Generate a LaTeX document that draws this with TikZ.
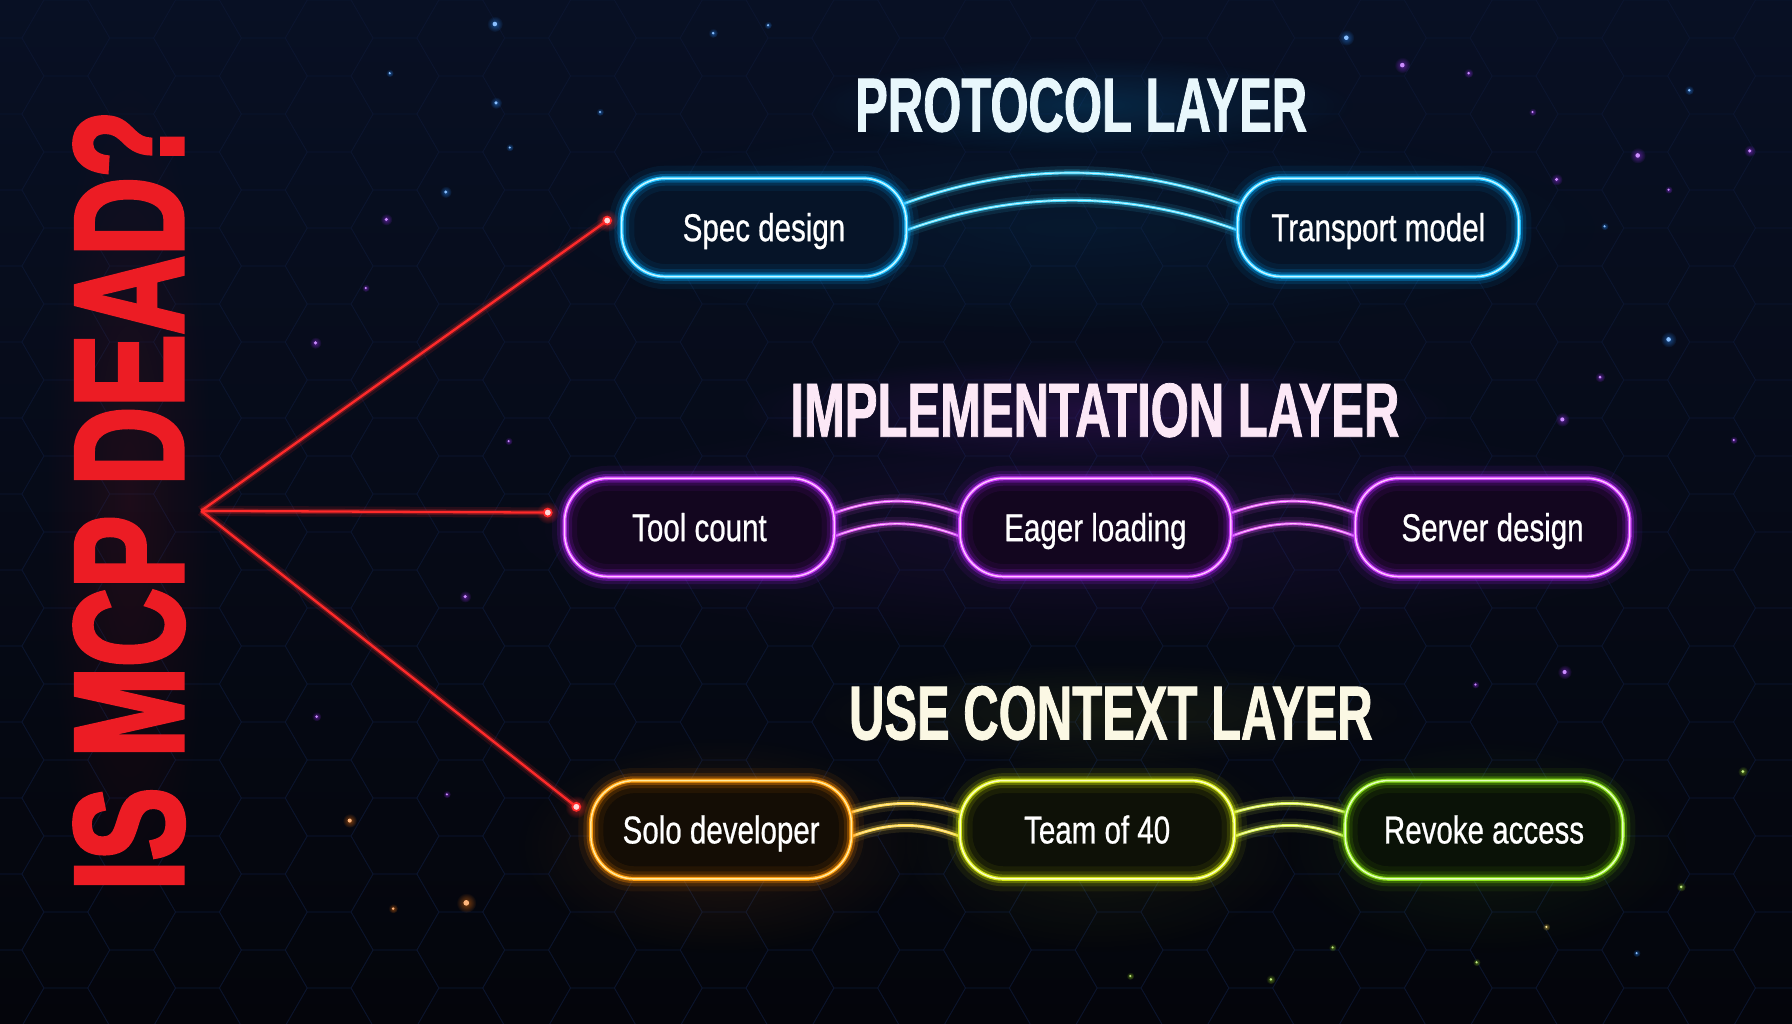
\documentclass[tikz,border=0pt]{standalone}
\usepackage{fontspec}
\usetikzlibrary{calc,fadings}
\newfontfamily\titlefont{Liberation Sans}[FakeStretch=0.70,FakeBold=2.5]
\newfontfamily\headfont{Liberation Sans}[FakeStretch=0.64,FakeBold=1]
\newfontfamily\boxfont{Liberation Sans}[FakeStretch=0.76,FakeBold=0.6]
\definecolor{bgtop}{HTML}{081024}
\definecolor{bgbot}{HTML}{04050B}
\definecolor{hexcol}{HTML}{0C1630}
\definecolor{titlered}{HTML}{EC1C24}
\definecolor{redc}{HTML}{FF2A2A}
\definecolor{protxt}{HTML}{E8F7FC}
\definecolor{imptxt}{HTML}{FCE8F6}
\definecolor{usetxt}{HTML}{FBF8E4}
\definecolor{cyanc}{HTML}{3FD8FF}
\definecolor{cyanhot}{HTML}{C8F6FF}
\definecolor{cyanfill}{HTML}{061428}
\definecolor{cyanglow}{HTML}{00A8FF}
\definecolor{magc}{HTML}{E050F4}
\definecolor{maghot}{HTML}{FFC4FF}
\definecolor{magfill}{HTML}{13061F}
\definecolor{magglow}{HTML}{B020FF}
\definecolor{soloc}{HTML}{FFB21A}
\definecolor{solohot}{HTML}{FFE9A0}
\definecolor{solofill}{HTML}{140D05}
\definecolor{sologlow}{HTML}{FF8A00}
\definecolor{teamc}{HTML}{E2EE2C}
\definecolor{teamhot}{HTML}{FBFFC4}
\definecolor{teamfill}{HTML}{0E1107}
\definecolor{teamglow}{HTML}{C8E000}
\definecolor{revc}{HTML}{A3EE34}
\definecolor{revhot}{HTML}{E4FFC0}
\definecolor{revfill}{HTML}{0A1207}
\definecolor{revglow}{HTML}{70D000}
\definecolor{arcy}{HTML}{FFD84A}
\definecolor{arcg}{HTML}{D4F04A}
\definecolor{sblue}{HTML}{2A8CFF}
\definecolor{spurple}{HTML}{A030FF}
\definecolor{sorange}{HTML}{FF7A10}
\definecolor{sgreen}{HTML}{9AE020}
\tikzfading[name=glowfade, inner color=transparent!0, outer color=transparent!100]
\pgfdeclarelayer{bglayer}
\pgfdeclarelayer{back}
\pgfsetlayers{bglayer,back,main}
\tikzset{
  pill/.style={rounded corners=38pt, minimum height=86pt, inner sep=0pt,
    text=white, line width=3.4pt, text height=24pt, text depth=0pt,
    font=\boxfont\fontsize{34}{36}\selectfont},
  neon/.style n args={4}{draw=#1, fill=#2,
    postaction={draw=#4, line width=22pt, draw opacity=0.07},
    postaction={draw=#4, line width=13pt, draw opacity=0.14},
    postaction={draw=#4, line width=7.5pt, draw opacity=0.32},
    postaction={draw=#3, line width=1.3pt}},
  arcline/.style 2 args={draw=#1, line width=2.5pt,
    preaction={draw=#1, line width=12pt, draw opacity=0.10},
    preaction={draw=#1, line width=6pt, draw opacity=0.25},
    postaction={draw=#2, line width=0.9pt}},
  redline/.style={draw=redc, line width=2pt,
    preaction={draw=redc, line width=9pt, draw opacity=0.12},
    preaction={draw=redc, line width=4.5pt, draw opacity=0.3}},
  headtxt/.style={inner sep=0pt, font=\headfont\bfseries\fontsize{67}{70}\selectfont},
  glow/.style={path fading=glowfade, fill=#1}
}
\begin{document}
\begin{tikzpicture}[x=1pt,y=-1pt]
\useasboundingbox (0,0) rectangle (1568,896);
\begin{pgfonlayer}{bglayer}
\shade[top color=bgtop, bottom color=bgbot] (0,0) rectangle (1568,896);
\begin{scope}[draw=hexcol, line width=0.7pt, draw opacity=0.7]
\foreach \i in {0,...,28}{
  \foreach \j in {-1,...,14}{
    \pgfmathsetmacro\cx{\i*57.6}
    \pgfmathsetmacro\cy{\j*66.5+mod(\i,2)*33.25}
    \draw (\cx+38.4,\cy) -- (\cx+19.2,\cy+33.25) -- (\cx-19.2,\cy+33.25) -- (\cx-38.4,\cy) -- (\cx-19.2,\cy-33.25) -- (\cx+19.2,\cy-33.25) -- cycle;
  }}
\end{scope}
% ambient glows
\fill[glow=titlered, opacity=0.10] (113,438) ellipse (75 and 380);
\fill[glow=cyanglow, opacity=0.16] (946,92) ellipse (240 and 42);
\fill[glow=cyanglow, opacity=0.07] (937,199) ellipse (470 and 95);
\fill[glow=magglow, opacity=0.15] (958,359) ellipse (320 and 48);
\fill[glow=magglow, opacity=0.09] (960,462) ellipse (540 and 105);
\fill[glow=teamglow, opacity=0.08] (972,624) ellipse (270 and 45);
\fill[glow=sologlow, opacity=0.12] (631,740) ellipse (180 and 95);
\fill[glow=teamglow, opacity=0.08] (960,740) ellipse (180 and 95);
\fill[glow=revglow, opacity=0.09] (1298,740) ellipse (180 and 95);
% sparkles
\foreach \cc/\px/\py/\rr in {sblue/433/21/2, sblue/434/90/1.5, sblue/446/129/1, sblue/390/168/1.5,
  sblue/341/64/1, sblue/525/98/1, spurple/338/192/1.5, spurple/320/252/1, spurple/276/300/1.5,
  spurple/445/386/1, spurple/407/522/1.5, spurple/277/627/1.2, spurple/391/695/1,
  sorange/306/718/1.8, sorange/408/790/2.5, sorange/344/795/1.2, sblue/624/29/1.2, sblue/672/22/1,
  sblue/1178/33/2, spurple/1227/57/2, spurple/1285/64/1.2, spurple/1341/98/1, sblue/1478/79/1.2,
  spurple/1433/136/2, spurple/1531/132/1.5, spurple/1362/157/1.5, spurple/1460/166/1,
  sblue/1404/198/1, sblue/1460/297/2, spurple/1400/330/1.3, spurple/1367/367/1.8,
  spurple/1517/385/1, spurple/1369/588/1.8, spurple/1291/599/1, sgreen/1525/675/1.3,
  sgreen/1471/776/1.2, arcy/1353/811/1, sgreen/1166/829/1, sgreen/1292/842/1,
  sgreen/989/854/1, sgreen/1112/857/1.2, sblue/1432/834/1}{
  \fill[glow=\cc, opacity=0.5] (\px,\py) circle ({\rr*3.5});
  \fill[\cc!55!white] (\px,\py) circle (\rr);
}
\end{pgfonlayer}

% title
\node[rotate=90, inner sep=0pt, text=titlered,
  font=\titlefont\bfseries\fontsize{136}{140}\selectfont] (title) at (113,438) {IS MCP DEAD?};

% headings
\node[headtxt, text=protxt] (hprot) at (946,92) {PROTOCOL LAYER};
\node[headtxt, text=imptxt] (himp) at (958,359) {IMPLEMENTATION LAYER};
\node[headtxt, text=usetxt] (huse) at (972,624) {USE CONTEXT LAYER};

% row 1
\node[pill, neon={cyanc}{cyanfill}{cyanhot}{cyanglow}, minimum width=249pt] (spec) at (668.5,199) {Spec design};
\node[pill, neon={cyanc}{cyanfill}{cyanhot}{cyanglow}, minimum width=246pt] (trans) at (1206,199) {Transport model};
% row 2
\node[pill, neon={magc}{magfill}{maghot}{magglow}, minimum width=236pt] (tool) at (612,461.5) {Tool count};
\node[pill, neon={magc}{magfill}{maghot}{magglow}, minimum width=237pt] (eager) at (958.5,461.5) {Eager loading};
\node[pill, neon={magc}{magfill}{maghot}{magglow}, minimum width=240pt] (server) at (1306,461.5) {Server design};
% row 3
\node[pill, neon={soloc}{solofill}{solohot}{sologlow}, minimum width=228pt] (solo) at (631,726) {Solo developer};
\node[pill, neon={teamc}{teamfill}{teamhot}{teamglow}, minimum width=240pt] (team) at (960,726) {Team of 40};
\node[pill, neon={revc}{revfill}{revhot}{revglow}, minimum width=243pt] (revoke) at (1298.5,726) {Revoke access};

% connectors between boxes
\begin{pgfonlayer}{back}
\draw[arcline={cyanc}{cyanhot}] ($(spec.east)+(-6,-20)$) .. controls +(100,-37) and +(-100,-37) .. ($(trans.west)+(6,-20)$);
\draw[arcline={cyanc}{cyanhot}] ($(spec.east)+(-6,4)$) .. controls +(100,-37) and +(-100,-37) .. ($(trans.west)+(6,4)$);
\draw[arcline={magc}{maghot}] ($(tool.east)+(-6,-11)$) .. controls +(42,-16) and +(-42,-16) .. ($(eager.west)+(6,-11)$);
\draw[arcline={magc}{maghot}] ($(tool.east)+(-6,9.5)$) .. controls +(42,-17) and +(-42,-17) .. ($(eager.west)+(6,9.5)$);
\draw[arcline={magc}{maghot}] ($(eager.east)+(-6,-11)$) .. controls +(42,-16) and +(-42,-16) .. ($(server.west)+(6,-11)$);
\draw[arcline={magc}{maghot}] ($(eager.east)+(-6,9.5)$) .. controls +(42,-17) and +(-42,-17) .. ($(server.west)+(6,9.5)$);
\draw[arcline={arcy}{solohot}] ($(solo.east)+(-6,-14)$) .. controls +(38,-12) and +(-38,-12) .. ($(team.west)+(6,-14)$);
\draw[arcline={arcy}{solohot}] ($(solo.east)+(-6,7.5)$) .. controls +(38,-15) and +(-38,-15) .. ($(team.west)+(6,7.5)$);
\draw[arcline={arcg}{teamhot}] ($(team.east)+(-6,-14)$) .. controls +(38,-12) and +(-38,-12) .. ($(revoke.west)+(6,-14)$);
\draw[arcline={arcg}{teamhot}] ($(team.east)+(-6,7.5)$) .. controls +(38,-15) and +(-38,-15) .. ($(revoke.west)+(6,7.5)$);
\end{pgfonlayer}

% red fan
\coordinate (hub) at (176,447);
\coordinate (d1) at ($(spec.west)+(-11,-6)$);
\coordinate (d2) at ($(tool.west)+(-13,-13)$);
\coordinate (d3) at ($(solo.west)+(-11,-20)$);
\begin{pgfonlayer}{back}
\draw[redline] (hub) -- (d1);
\draw[redline] (hub) -- (d2);
\draw[redline] (hub) -- (d3);
\end{pgfonlayer}
\foreach \d in {d1,d2,d3}{
  \fill[glow=redc, opacity=0.6] (\d) circle (10);
  \filldraw[fill=white!85!red, draw=redc, line width=1.5pt] (\d) circle (3.5);
}
\end{tikzpicture}
\end{document}
